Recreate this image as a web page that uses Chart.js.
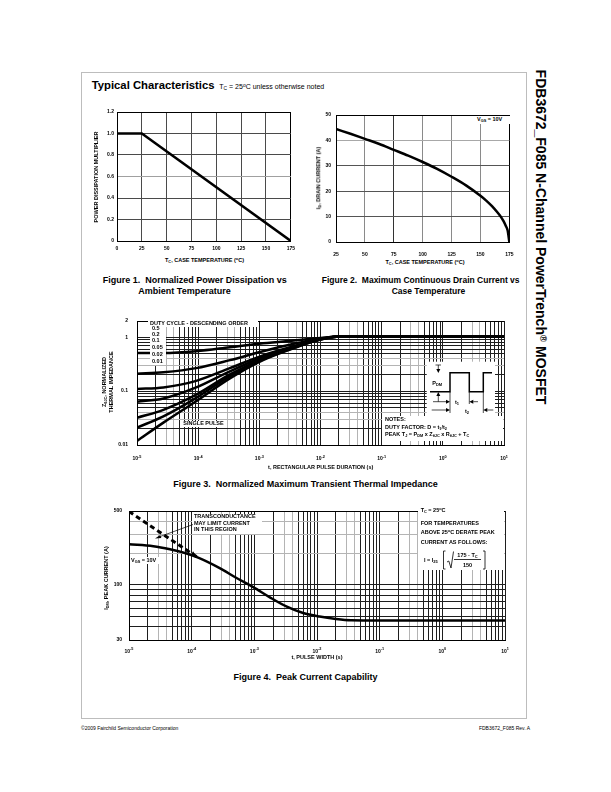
<!DOCTYPE html>
<html>
<head>
<meta charset="utf-8">
<script src="https://cdn.jsdelivr.net/npm/chart.js@4.4.1/dist/chart.umd.min.js"></script>
<style>
  body { margin:0; width:611px; height:792px; position:relative; background:#fff; overflow:hidden;
         font-family:"Liberation Sans", Arial, sans-serif; color:#000; }
  canvas, .t, .box, .frame, svg { position:absolute; }
  .t { line-height:1; white-space:nowrap; font-weight:bold; }
  .n { font-weight:normal; }
  .rot { transform:translate(-50%,-50%) rotate(-90deg); }
  .box { background:#fff; }
  .frame { left:81px; top:72px; width:446px; height:647px; border:1.5px solid #bdbdbd; box-sizing:border-box; }
  sub { font-size:70%; vertical-align:-0.3em; line-height:0; }
  sup { font-size:70%; vertical-align:0.4em; line-height:0; }
</style>
</head>
<body>
<div class="frame"></div>

<div class="t" style="left:91.7px;top:79.6px;font-size:11.3px">Typical Characteristics</div>
<div class="t n" style="left:219.3px;top:83.2px;font-size:7px">T<sub>C</sub> = 25<sup>o</sup>C unless otherwise noted</div>

<div class="t" style="left:541px;top:236.5px;font-size:14px;transform:translate(-50%,-50%) rotate(90deg)">FDB3672_F085 N-Channel PowerTrench<sup>®</sup> MOSFET</div>

<canvas id="fig1" width="200" height="150" style="left:100px;top:105px"></canvas>
<canvas id="fig2" width="205" height="150" style="left:318px;top:107px"></canvas>
<canvas id="fig3" width="395" height="160" style="left:117px;top:309px"></canvas>
<canvas id="fig4" width="405" height="160" style="left:107px;top:501px"></canvas>

<!-- figure 1 text -->
<div class="t rot" style="left:96.7px;top:177px;font-size:5.5px">POWER DISSIPATION MULTIPLIER</div>
<div class="t" style="left:204.5px;top:258px;font-size:5.5px;transform:translateX(-50%)">T<sub>C</sub>, CASE TEMPERATURE (<sup>o</sup>C)</div>
<div class="t" style="left:102.7px;top:276px;font-size:9px">Figure 1.&nbsp; Normalized Power Dissipation vs</div>
<div class="t" style="left:138.3px;top:286.5px;font-size:9px">Ambient Temperature</div>

<!-- figure 2 text -->
<div class="t rot" style="left:319px;top:178px;font-size:5.5px">I<sub>D</sub>, DRAIN CURRENT (A)</div>
<div class="t" style="left:425px;top:260px;font-size:5.5px;transform:translateX(-50%)">T<sub>C</sub>, CASE TEMPERATURE (<sup>o</sup>C)</div>
<div class="box" style="left:475px;top:116px;width:36px;height:8px"></div>
<div class="t" style="left:477px;top:117.2px;font-size:5.5px">V<sub>GS</sub> = 10V</div>
<div class="t" style="left:321.7px;top:276.2px;font-size:8.5px">Figure 2.&nbsp; Maximum Continuous Drain Current vs</div>
<div class="t" style="left:391.7px;top:286.7px;font-size:8.5px">Case Temperature</div>

<!-- figure 3 text -->
<div class="t rot" style="left:108.3px;top:382px;font-size:5.5px;line-height:6.7px;text-align:center">Z<sub>θJC</sub>, NORMALIZED<br>THERMAL IMPEDANCE</div>
<div class="t" style="left:320.7px;top:464.5px;font-size:5.5px;transform:translateX(-50%)">t, RECTANGULAR PULSE DURATION (s)</div>
<div class="box" style="left:148.3px;top:319.8px;width:110px;height:7px"></div>
<div class="t" style="left:150px;top:320.5px;font-size:5.5px">DUTY CYCLE - DESCENDING ORDER</div>
<div class="box" style="left:150px;top:326.5px;width:16px;height:38.5px"></div>
<div class="t" style="left:152px;top:326.3px;font-size:5.5px">0.5</div>
<div class="t" style="left:152px;top:332.3px;font-size:5.5px">0.2</div>
<div class="t" style="left:152px;top:338.3px;font-size:5.5px">0.1</div>
<div class="t" style="left:152px;top:345px;font-size:5.5px">0.05</div>
<div class="t" style="left:152px;top:352.3px;font-size:5.5px">0.02</div>
<div class="t" style="left:152px;top:359px;font-size:5.5px">0.01</div>
<div class="box" style="left:180px;top:420.8px;width:47px;height:6.5px"></div>
<div class="t" style="left:203.5px;top:421.3px;font-size:5.5px;transform:translateX(-50%)">SINGLE PULSE</div>
<div class="box" style="left:381.7px;top:416px;width:121.6px;height:25px"></div>
<div class="t" style="left:385px;top:417.3px;font-size:5.5px">NOTES:</div>
<div class="t" style="left:385px;top:424.5px;font-size:5.5px">DUTY FACTOR: D = t<sub>1</sub>/t<sub>2</sub></div>
<div class="t" style="left:385px;top:431.5px;font-size:5.5px">PEAK T<sub>J</sub> = P<sub>DM</sub> x Z<sub>θJC</sub> x R<sub>θJC</sub> + T<sub>C</sub></div>
<div class="t" style="left:0;width:611px;text-align:center;top:479.5px;font-size:9px">Figure 3.&nbsp; Normalized Maximum Transient Thermal Impedance</div>

<!-- figure 4 text -->
<div class="t rot" style="left:106.7px;top:578px;font-size:5.5px">I<sub>DM</sub>, PEAK CURRENT (A)</div>
<div class="t" style="left:317px;top:655px;font-size:5.5px;transform:translateX(-50%)">t, PULSE WIDTH (s)</div>
<div class="box" style="left:191.7px;top:514px;width:70px;height:19.5px"></div>
<div class="t" style="left:194px;top:514.3px;font-size:5.5px">TRANSCONDUCTANCE</div>
<div class="t" style="left:194px;top:520.6px;font-size:5.5px">MAY LIMIT CURRENT</div>
<div class="t" style="left:194px;top:526.8px;font-size:5.5px">IN THIS REGION</div>
<div class="box" style="left:130px;top:557.3px;width:29px;height:7px"></div>
<div class="t" style="left:131px;top:558px;font-size:5.5px">V<sub>GS</sub> = 10V</div>
<div class="box" style="left:418.3px;top:509px;width:85.7px;height:61px"></div>
<div class="t" style="left:420.7px;top:508px;font-size:5.5px">T<sub>C</sub> = 25<sup>o</sup>C</div>
<div class="t" style="left:420.7px;top:520.6px;font-size:5.5px">FOR TEMPERATURES</div>
<div class="t" style="left:420.7px;top:530px;font-size:5.5px">ABOVE 25<sup>o</sup>C DERATE PEAK</div>
<div class="t" style="left:420.7px;top:539.6px;font-size:5.5px">CURRENT AS FOLLOWS:</div>
<div class="t" style="left:0;width:611px;text-align:center;top:672.5px;font-size:9px">Figure 4.&nbsp; Peak Current Capability</div>

<div class="t n" style="left:81px;top:725.5px;font-size:5px">©2009 Fairchild Semiconductor Corporation</div>
<div class="t n" style="right:81px;top:725.5px;font-size:5px">FDB3672_F085 Rev. A</div>

<svg width="611" height="792" style="left:0;top:0" font-family="Liberation Sans, Arial, sans-serif" font-weight="bold">
  <!-- pulse sketch, figure 3 -->
  <rect x="426.7" y="361.7" width="68.3" height="54.3" fill="#fff"/>
  <polyline points="430,391.7 450,391.7 450,372.7 469.3,372.7 469.3,391.7 483.3,391.7 483.3,372.7 492,372.7" fill="none" stroke="#000" stroke-width="1.5"/>
  <g stroke="#000" stroke-width="0.7" fill="none">
    <line x1="450" y1="391.7" x2="450" y2="413"/>
    <line x1="469.3" y1="391.7" x2="469.3" y2="404"/>
    <line x1="483.3" y1="391.7" x2="483.3" y2="413"/>
    <line x1="435.5" y1="365" x2="441" y2="365"/>
    <line x1="438.3" y1="365" x2="438.3" y2="369"/>
    <line x1="438.3" y1="396" x2="438.3" y2="401.7"/>
    <line x1="433" y1="401.7" x2="446" y2="401.7"/>
    <line x1="478" y1="401.7" x2="473.3" y2="401.7"/>
    <line x1="431.7" y1="410" x2="446" y2="410"/>
    <line x1="493.3" y1="410" x2="487.3" y2="410"/>
  </g>
  <g fill="#000">
    <polygon points="436.3,369 440.3,369 438.3,373"/>
    <polygon points="436.3,396 440.3,396 438.3,392"/>
    <polygon points="446,399.7 446,403.7 450,401.7"/>
    <polygon points="473.3,399.7 473.3,403.7 469.3,401.7"/>
    <polygon points="446,408 446,412 450,410"/>
    <polygon points="487.3,408 487.3,412 483.3,410"/>
  </g>
  <text x="432.3" y="384.5" font-size="5.5">P<tspan font-size="4" dy="1">DM</tspan></text>
  <text x="455" y="403.5" font-size="5.5">t<tspan font-size="4" dy="1">1</tspan></text>
  <text x="465" y="412.5" font-size="5.5">t<tspan font-size="4" dy="1">2</tspan></text>

  <!-- figure 4 notes -->
  <line x1="193" y1="524.5" x2="158" y2="537.3" stroke="#000" stroke-width="0.7"/>
  <polygon points="155,538.5 160.2,534.9 161.3,538.1" fill="#000"/>
  <text x="424" y="562" font-size="5.5">I = I<tspan font-size="4" dy="1">25</tspan></text>
  <g stroke="#000" stroke-width="0.8" fill="none">
    <path d="M445.5 551 L443.5 551 L443.5 569 L445.5 569"/>
    <path d="M483 551 L485 551 L485 569 L483 569"/>
    <path d="M447 562 L448.8 561 L451 568 L453.5 551.5"/>
    <line x1="454" y1="559.5" x2="481" y2="559.5"/>
  </g>
  <text x="467.5" y="557.3" font-size="5.5" text-anchor="middle">175 - T<tspan font-size="4" dy="1">C</tspan></text>
  <text x="467.5" y="566.8" font-size="5.5" text-anchor="middle">150</text>
</svg>

<script>
// ---------- data ----------
// Figure 1: normalized power dissipation vs case temperature
const fig1Temp = [0, 25, 175];
const fig1Mult = [1.0, 1.0, 0];
const fig1XTicks = [0, 25, 50, 75, 100, 125, 150, 175];
const fig1YTicks = [0, 0.2, 0.4, 0.6, 0.8, 1.0, 1.2];
const fig1YLabels = ['0', '0.2', '0.4', '0.6', '0.8', '1.0', '1.2'];

// Figure 2: max continuous drain current vs case temperature
const fig2Temp = [25, 37.5, 50, 62.5, 75, 87.5, 100, 112.5, 125, 137.5, 150, 155, 160, 165, 168, 170, 172, 173.5, 175];
const fig2Id = [44.5, 42.6, 40.6, 38.6, 36.3, 34.0, 31.5, 28.8, 25.7, 22.3, 18.2, 16.3, 14.1, 11.5, 9.7, 8.2, 6.3, 4.6, 0];
const fig2XTicks = [25, 50, 75, 100, 125, 150, 175];
const fig2YTicks = [0, 10, 20, 30, 40, 50];

// Figure 3: transient thermal impedance
const fig3Time = [1e-5, 2.7e-5, 9.3e-5, 3.3e-4, 1.15e-3, 4e-3, 1e-2, 2.5e-2, 10];
const fig3D05 = [0.51, 0.51, 0.55, 0.65, 0.77, 0.88, 0.97, 1.04, 1.04];
const fig3D02 = [0.21, 0.224, 0.267, 0.376, 0.55, 0.77, 0.95, 1.04, 1.04];
const fig3D01 = [0.11, 0.117, 0.155, 0.267, 0.46, 0.70, 0.93, 1.04, 1.04];
const fig3D005 = [0.0635, 0.073, 0.117, 0.233, 0.43, 0.68, 0.92, 1.04, 1.04];
const fig3D002 = [0.032, 0.045, 0.086, 0.204, 0.40, 0.67, 0.92, 1.04, 1.04];
const fig3D001 = [0.021, 0.034, 0.075, 0.19, 0.39, 0.66, 0.91, 1.04, 1.04];
const fig3Single = [0.0119, 0.026, 0.065, 0.172, 0.376, 0.65, 0.91, 1.04, 1.04];
const fig3YGrid = [0.01, 0.02, 0.03, 0.04, 0.05, 0.06, 0.07, 0.08, 0.09,
                   0.1, 0.2, 0.3, 0.4, 0.5, 0.6, 0.7, 0.8, 0.9, 1, 2];
const fig3YTickVals = [0.01, 0.1, 1, 2];
const fig3YTickLabels = ['0.01', '0.1', '1', '2'];

// Figure 4: peak current capability
const fig4Time = [1e-5, 2.44e-5, 4.5e-5, 8.3e-5, 1.27e-4, 2.8e-4, 5.2e-4, 9.6e-4, 1.77e-3, 3.3e-3, 6e-3, 1.1e-2, 2e-2, 3.5e-2, 1e-1, 10];
const fig4Peak = [242, 232, 217, 198, 181, 144, 116, 95, 76, 62, 54, 50, 47.5, 46.2, 46, 46];
const fig4LimitTime = [1e-5, 1.2e-4];
const fig4Limit = [495, 184];
const fig4YGrid = [30, 40, 50, 60, 70, 80, 90, 100, 200, 300, 400, 500];
const fig4YTickVals = [30, 100, 500];
const fig4YTickLabels = ['30', '100', '500'];

// decade exponents for the time axes (fig 3 and 4)
const timeExps = [-5, -4, -3, -2, -1, 0, 1];

// ---------- helpers ----------
const FONT = '"Liberation Sans", Arial, sans-serif';
const TICK_FONT = { family: FONT, size: 5, weight: 'bold' };

function pts(xs, ys) {
  return xs.map((x, i) => ({ x: x, y: ys[i] }));
}

function logGrid(lo, hi) {
  var v = [];
  for (var e = lo; e < hi; e++) {
    for (var k = 1; k < 10; k++) v.push(+(k * Math.pow(10, e)).toPrecision(3));
  }
  v.push(Math.pow(10, hi));
  return v;
}

function mantissa(v) {
  return Math.round(v / Math.pow(10, Math.floor(Math.log10(v) + 1e-9)));
}

function logColor(c) {
  var k = mantissa(c.tick.value);
  return (k === 3 || k === 4) ? '#b4b4b4' : '#1e1e1e';
}

// "10" with a raised exponent under each decade
const expTicks = {
  id: 'expTicks',
  afterDraw(chart, args, opts) {
    var sc = chart.scales.x, ctx = chart.ctx;
    var y = chart.chartArea.bottom + opts.offset;
    ctx.save();
    ctx.fillStyle = '#000';
    ctx.textBaseline = 'middle';
    ctx.textAlign = 'left';
    opts.exps.forEach(function (e) {
      var x = sc.getPixelForValue(Math.pow(10, e));
      var ex = String(e);
      ctx.font = 'bold 5px ' + FONT;
      var wb = ctx.measureText('10').width;
      ctx.font = 'bold 3.8px ' + FONT;
      var we = ctx.measureText(ex).width;
      var x0 = x - (wb + we) / 2;
      ctx.font = 'bold 5px ' + FONT;
      ctx.fillText('10', x0, y);
      ctx.font = 'bold 3.8px ' + FONT;
      ctx.fillText(ex, x0 + wb, y - 2.3);
    });
    ctx.restore();
  }
};

// arrow head at the end of the transconductance limit line
const limitArrow = {
  id: 'limitArrow',
  afterDatasetsDraw(chart) {
    var p = chart.getDatasetMeta(1).data;
    var a = p[p.length - 2], b = p[p.length - 1];
    var ang = Math.atan2(b.y - a.y, b.x - a.x);
    var ctx = chart.ctx;
    ctx.save();
    ctx.fillStyle = '#000';
    ctx.translate(b.x, b.y);
    ctx.rotate(ang);
    ctx.beginPath();
    ctx.moveTo(0, 0);
    ctx.lineTo(-6, -2.6);
    ctx.lineTo(-6, 2.6);
    ctx.closePath();
    ctx.fill();
    ctx.restore();
  }
};

function common(padTop, padRight) {
  return {
    responsive: false,
    animation: false,
    devicePixelRatio: 1,
    layout: { padding: { top: padTop, right: padRight, left: 0, bottom: 0 } },
    plugins: { legend: { display: false }, tooltip: { enabled: false } },
    elements: { point: { radius: 0 } }
  };
}

function line(data, w, extra) {
  return Object.assign({ data: data, borderColor: '#000', borderWidth: w, fill: false,
                         cubicInterpolationMode: 'monotone' }, extra || {});
}

// ---------- figure 1 ----------
var opt1 = common(7, 8);
opt1.scales = {
  x: {
    type: 'linear', min: 0, max: 175,
    afterBuildTicks: function (s) { s.ticks = fig1XTicks.map(function (v) { return { value: v }; }); },
    ticks: { font: TICK_FONT, color: '#000', padding: 5, maxRotation: 0, autoSkip: false },
    grid: { drawTicks: false, color: function (c) { return c.tick.value === 175 ? '#000' : '#4a4a4a'; } },
    border: { color: '#000' },
    afterFit: function (s) { s.height = 14; }
  },
  y: {
    min: 0, max: 1.2,
    afterBuildTicks: function (s) { s.ticks = fig1YTicks.map(function (v) { return { value: v }; }); },
    ticks: { font: TICK_FONT, color: '#000', padding: 3, autoSkip: false,
             callback: function (v, i) { return fig1YLabels[i]; } },
    grid: { drawTicks: false, color: function (c) {
      var v = c.tick.value;
      return v === 1.2 ? '#000' : (v === 0.6 ? '#a0a0a0' : '#4a4a4a');
    } },
    border: { color: '#000' },
    afterFit: function (s) { s.width = 17; }
  }
};
new Chart(document.getElementById('fig1'), {
  type: 'line',
  data: { datasets: [line(pts(fig1Temp, fig1Mult), 2.5, { cubicInterpolationMode: 'default', tension: 0 })] },
  options: opt1
});

// ---------- figure 2 ----------
var opt2 = common(7, 9);
opt2.scales = {
  x: {
    type: 'linear', min: 25, max: 175,
    afterBuildTicks: function (s) { s.ticks = fig2XTicks.map(function (v) { return { value: v }; }); },
    ticks: { font: TICK_FONT, color: '#000', padding: 9.5, maxRotation: 0, autoSkip: false },
    grid: { drawTicks: false, color: function (c) {
      var v = c.tick.value;
      return v === 175 ? '#000' : (v === 75 ? '#333' : '#8a8a8a');
    } },
    border: { color: '#000' },
    afterFit: function (s) { s.height = 15; }
  },
  y: {
    min: 0, max: 50,
    afterBuildTicks: function (s) { s.ticks = fig2YTicks.map(function (v) { return { value: v }; }); },
    ticks: { font: TICK_FONT, color: '#000', padding: 5, autoSkip: false },
    grid: { drawTicks: false, color: function (c) {
      var v = c.tick.value;
      return v === 50 ? '#000' : (v === 40 ? '#a8a8a8' : '#555');
    } },
    border: { color: '#000' },
    afterFit: function (s) { s.width = 18; }
  }
};
new Chart(document.getElementById('fig2'), {
  type: 'line',
  data: { datasets: [line(pts(fig2Temp, fig2Id), 2.5)] },
  options: opt2
});

// ---------- figure 3 ----------
var timeGrid = logGrid(-5, 1);
var opt3 = common(7, 8);
opt3.plugins.expTicks = { exps: timeExps, offset: 14 };
opt3.scales = {
  x: {
    type: 'logarithmic', min: 1e-5, max: 10,
    afterBuildTicks: function (s) { s.ticks = timeGrid.map(function (v) { return { value: v }; }); },
    ticks: { display: false },
    grid: { drawTicks: false, color: logColor },
    border: { color: '#000' },
    afterFit: function (s) { s.height = 24; }
  },
  y: {
    type: 'logarithmic', min: 0.01, max: 2,
    afterBuildTicks: function (s) { s.ticks = fig3YGrid.map(function (v) { return { value: v }; }); },
    ticks: { font: TICK_FONT, color: '#000', padding: 9, autoSkip: false,
             callback: function (v) {
               var i = fig3YTickVals.indexOf(v);
               return i >= 0 ? fig3YTickLabels[i] : '';
             } },
    grid: { drawTicks: false, color: function (c) { return c.tick.value === 2 ? '#000' : logColor(c); } },
    border: { color: '#000' },
    afterFit: function (s) { s.width = 20; }
  }
};
new Chart(document.getElementById('fig3'), {
  type: 'line',
  data: { datasets: [
    line(pts(fig3Time, fig3D05), 2.5),
    line(pts(fig3Time, fig3D02), 2.5),
    line(pts(fig3Time, fig3D01), 2.5),
    line(pts(fig3Time, fig3D005), 2.5),
    line(pts(fig3Time, fig3D002), 2.5),
    line(pts(fig3Time, fig3D001), 2.5),
    line(pts(fig3Time, fig3Single), 2.5)
  ] },
  options: opt3,
  plugins: [expTicks]
});

// ---------- figure 4 ----------
var opt4 = common(7, 7);
opt4.plugins.expTicks = { exps: timeExps, offset: 11.5 };
opt4.scales = {
  x: {
    type: 'logarithmic', min: 1e-5, max: 10,
    afterBuildTicks: function (s) { s.ticks = timeGrid.map(function (v) { return { value: v }; }); },
    ticks: { display: false },
    grid: { drawTicks: false, color: logColor },
    border: { color: '#000' },
    afterFit: function (s) { s.height = 21; }
  },
  y: {
    type: 'logarithmic', min: 30, max: 500,
    afterBuildTicks: function (s) { s.ticks = fig4YGrid.map(function (v) { return { value: v }; }); },
    ticks: { font: TICK_FONT, color: '#000', padding: 7, autoSkip: false,
             callback: function (v) {
               var i = fig4YTickVals.indexOf(v);
               return i >= 0 ? fig4YTickLabels[i] : '';
             } },
    grid: { drawTicks: false, color: function (c) {
      var v = c.tick.value;
      if (v === 500) return '#000';
      return (v > 100 && v < 500) ? '#b4b4b4' : '#1e1e1e';
    } },
    border: { color: '#000' },
    afterFit: function (s) { s.width = 22; }
  }
};
new Chart(document.getElementById('fig4'), {
  type: 'line',
  data: { datasets: [
    line(pts(fig4Time, fig4Peak), 2.5),
    line(pts(fig4LimitTime, fig4Limit), 3, { borderDash: [5, 3.5], cubicInterpolationMode: 'default', tension: 0 })
  ] },
  options: opt4,
  plugins: [expTicks, limitArrow]
});
</script>
</body>
</html>
